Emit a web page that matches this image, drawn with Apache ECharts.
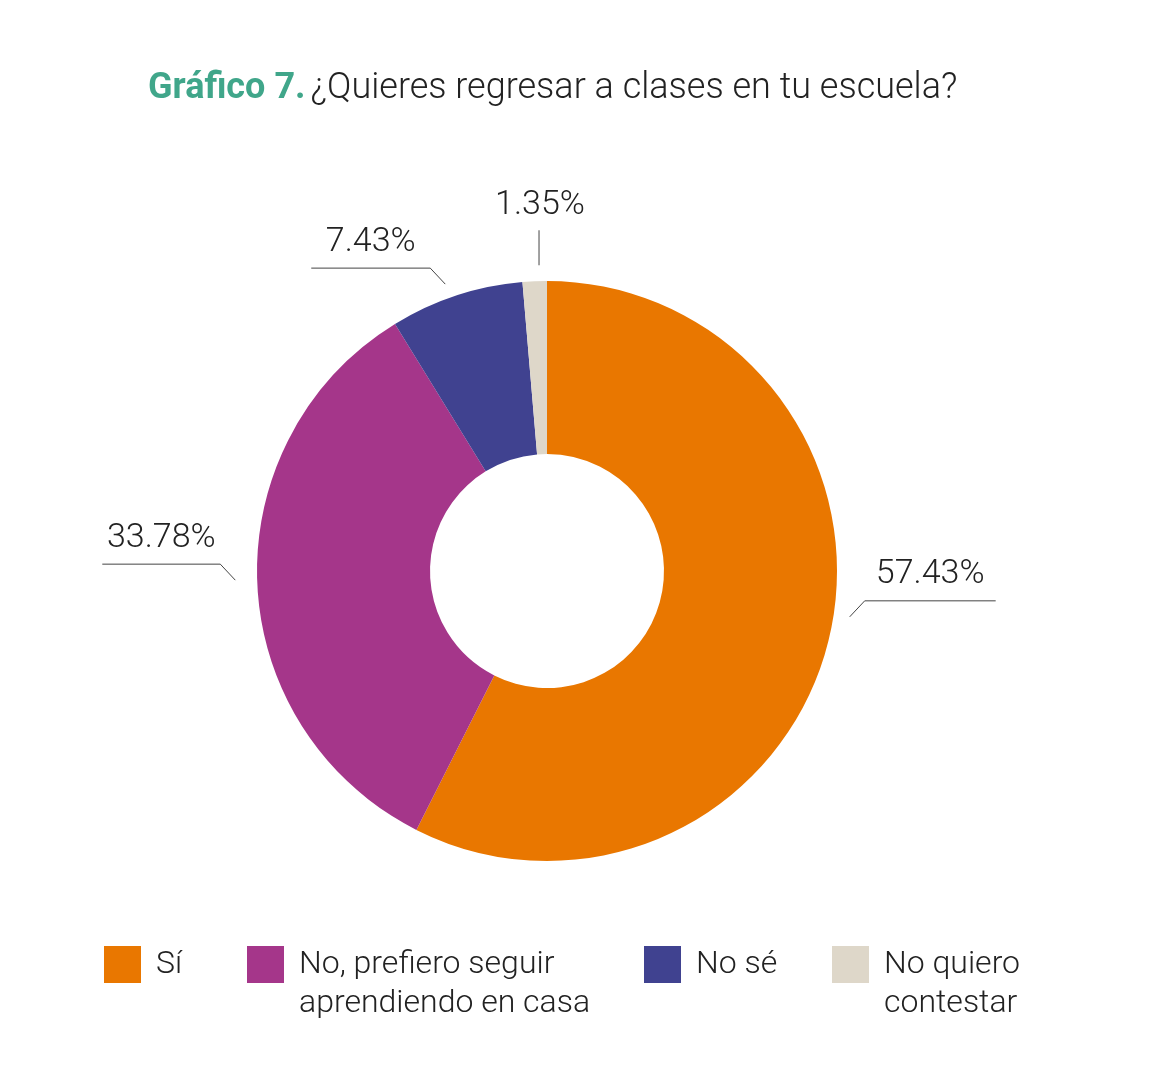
<!DOCTYPE html>
<html>
<head>
<meta charset="utf-8">
<script src="https://cdn.jsdelivr.net/npm/echarts@6/dist/echarts.min.js"></script>
<style>
html,body{margin:0;padding:0;background:#fff;}
#main{width:1156px;height:1080px;}
</style>
</head>
<body>
<div id="main"></div>
<script>
// 数据
var categories = ['Sí', 'No, prefiero seguir aprendiendo en casa', 'No sé', 'No quiero contestar'];
var legendLabels = ['Sí', 'No, prefiero seguir\naprendiendo en casa', 'No sé', 'No quiero\ncontestar'];
var values = [57.43, 33.78, 7.43, 1.35];
var colors = ['#E97700', '#A5368A', '#404290', '#DED7C9'];

var FONT = 'Roboto';
var LINE_COLOR = '#444';
// 标签线微调
var tweakX = [5, -6, 5, 5];
var tweakY = [-25, -4, -12, 0];
var lineLen = [131, 118, 119, 35];

var chart = echarts.init(document.getElementById('main'));

var pieData = [];
for (var i = 0; i < categories.length; i++) {
    pieData.push({name: categories[i], value: values[i], itemStyle: {color: colors[i]}});
}

// 图例：每项单独一个
var legendLeft = [104, 247, 644, 832];
var legends = [];
for (var j = 0; j < categories.length; j++) {
    var twoLines = legendLabels[j].indexOf('\n') >= 0;
    legends.push({
        data: [categories[j]],
        left: legendLeft[j],
        top: twoLines ? 906 : 945,
        padding: 0,
        icon: 'rect',
        itemWidth: 37,
        itemHeight: 37,
        itemGap: 0,
        selectedMode: false,
        // 两行文字前加空行，使第一行与色块对齐
        formatter: (function(k, two){ return function(){ return two ? '\n' + legendLabels[k] : legendLabels[k]; }; })(j, twoLines),
        textStyle: {
            fontFamily: FONT,
            fontWeight: 300,
            fontSize: 32,
            color: '#222',
            lineHeight: 39,
            padding: [0, 0, 0, 10]
        }
    });
}

var option = {
    backgroundColor: '#fff',
    animation: false,
    title: {
        text: '{a|Gráfico 7.} {b|¿Quieres regresar a clases en tu escuela?}',
        left: 143,
        top: 66,
        textStyle: {
            rich: {
                a: {fontFamily: FONT, fontWeight: 'bold', fontSize: 36, color: '#40A68A'},
                b: {fontFamily: FONT, fontWeight: 300, fontSize: 36, color: '#222'}
            }
        }
    },
    legend: legends,
    series: [{
        type: 'pie',
        center: [547, 571],
        radius: [117, 290],
        startAngle: 90,
        clockwise: true,
        silent: true,
        data: pieData,
        label: {
            show: true,
            formatter: '{c}%',
            fontFamily: FONT,
            fontWeight: 300,
            fontSize: 34,
            color: '#222'
        },
        labelLine: {
            show: true,
            length: 20,
            length2: 60,
            lineStyle: {color: LINE_COLOR, width: 1}
        },
        labelLayout: function(p){
            var pts = p.labelLinePoints;
            if (!pts) return {};
            var i = p.dataIndex;
            var p0 = pts[0], p1 = pts[1];
            var dx = p1[0] - p0[0], dy = p1[1] - p0[1];
            var len = Math.sqrt(dx * dx + dy * dy) || 1;
            dx /= len; dy /= len;
            var s = [p0[0] + dx * 16 + tweakX[i], p0[1] + dy * 16 + tweakY[i]];
            if (i === 3) {
                // 竖线
                var top = [s[0], s[1] - lineLen[i]];
                return {
                    x: s[0] + 1, y: top[1] - 8,
                    align: 'center', verticalAlign: 'bottom',
                    labelLinePoints: [s, top, top]
                };
            }
            var side = dx >= 0 ? 1 : -1;
            var elbow = [s[0] + side * 15, s[1] - 16];
            var end = [elbow[0] + side * lineLen[i], elbow[1]];
            return {
                x: (elbow[0] + end[0]) / 2, y: elbow[1] - 9,
                align: 'center', verticalAlign: 'bottom',
                labelLinePoints: [s, elbow, end]
            };
        }
    }]
};
chart.setOption(option);
</script>
</body>
</html>
